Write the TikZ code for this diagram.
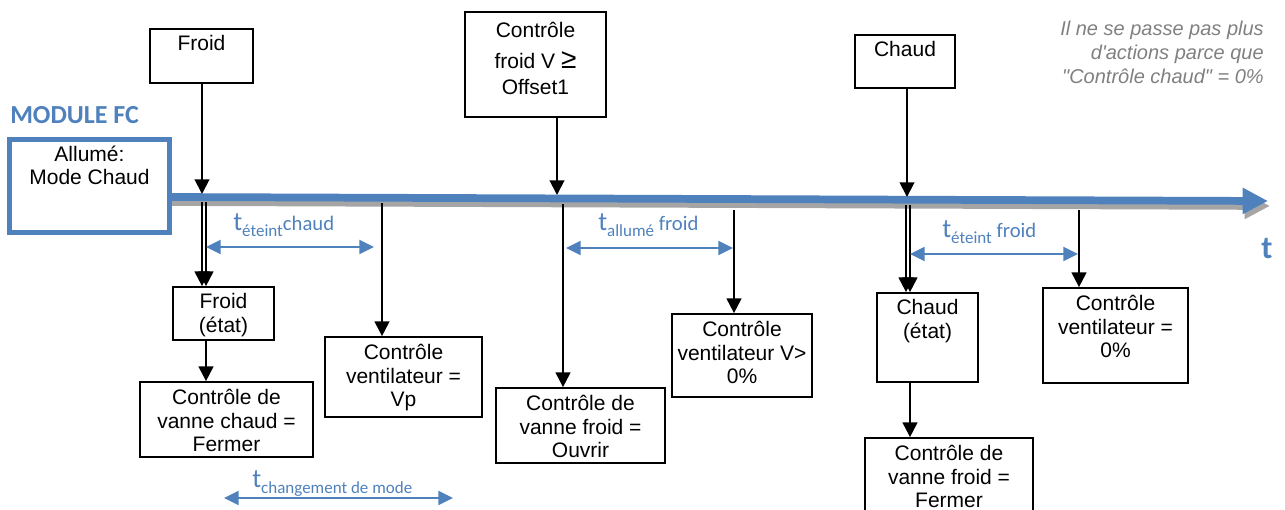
\documentclass[tikz,border=0pt]{standalone}
\usepackage{fontspec}
\setmainfont{Liberation Sans}
\newfontfamily\calibri{Carlito}
\newfontfamily\notefont{Liberation Sans}[Ligatures=TeXOff]
\usetikzlibrary{arrows.meta,fit}
\definecolor{fcblue}{RGB}{79,129,189}
\definecolor{shadowgray}{RGB}{165,165,165}
\definecolor{notegray}{RGB}{128,128,128}
% time label: big t, lowered subscript, then plain text
\newcommand\tlabel[2]{{\fontsize{20}{20}\selectfont t}\raisebox{-5pt}{\fontsize{12.75}{12.75}\selectfont #1}{\fontsize{15.5}{15.5}\selectfont #2}}
\begin{document}
\begin{tikzpicture}[x=0.75pt,y=-0.75pt,
  box/.style={draw=black, line width=1.3pt, inner sep=0pt},
  boxtext/.style={anchor=north, align=center, inner sep=0pt, font=\fontsize{15.75}{17.5}\selectfont},
  flow/.style={draw=black, line width=1.5pt, -{Triangle[length=11pt,width=11pt]}},
  span/.style={draw=fcblue, line width=1.7pt, {Triangle[length=11pt,width=10.5pt]}-{Triangle[length=11pt,width=10.5pt]}},
  spanlabel/.style={anchor=base west, inner sep=0pt, text=fcblue, font=\calibri},
  timeline/.style={draw=fcblue, line width=5.8pt, -{Triangle[length=19pt,width=18.5pt]}},
  timeshadow/.style={draw=shadowgray, line width=5.8pt, -{Triangle[length=19pt,width=18.5pt]}},
]
\useasboundingbox (0,0) rectangle (1285,510);

% time axis with its shadow
\coordinate (tlStart) at (170,197);
\coordinate (tlEnd) at (1268,201);
\draw[timeshadow] ([shift={(2,5)}]tlStart) -- ([shift={(2,5)}]tlEnd);
\draw[timeline] (tlStart) -- (tlEnd);
\node[anchor=base west, inner sep=0pt, text=fcblue, font=\calibri\bfseries\fontsize{24}{24}\selectfont] (axisT) at (1261,258) {t};

% module block
\node[anchor=base west, inner sep=0pt, text=fcblue, font=\calibri\bfseries\fontsize{19.5}{19.5}\selectfont] (modTitle) at (10,123) {MODULE FC};
\node[draw=fcblue, line width=3.8pt, inner sep=0pt, fit={(9.5,139.5) (169.5,232.5)}] (module) {};
\node[boxtext] (moduleText) at ([yshift=-6.5pt]module.north) {Allumé:\\Mode Chaud};

% event boxes above the axis
\node[box, fit={(150,29) (253,83)}] (froidTop) {};
\node[boxtext] (froidTopText) at ([yshift=-5.5pt]froidTop.north) {Froid};
\node[box, fit={(465,12) (606,117)}] (ctrlFroid) {};
\node[boxtext] (ctrlFroidText) at ([yshift=-8pt]ctrlFroid.north) {Contrôle\\[6pt]froid V {\fontsize{21}{21}\selectfont ≥}\\[2pt]Offset1};
\node[box, fit={(855,35) (955,88)}] (chaudTop) {};
\node[boxtext] (chaudTopText) at ([yshift=-5.5pt]chaudTop.north) {Chaud};

% boxes below the axis
\node[box, fit={(173,287) (274,340)}] (froidEtat) {};
\node[boxtext] (froidEtatText) at ([yshift=-5.5pt]froidEtat.north) {Froid\\(état)};
\node[box, fit={(140,382) (313,457)}] (vanneChaud) {};
\node[boxtext] (vanneChaudText) at ([yshift=-6pt]vanneChaud.north) {Contrôle de\\vanne chaud =\\Fermer};
\node[box, fit={(325,337) (482,417)}] (ventVp) {};
\node[boxtext] (ventVpText) at ([yshift=-6pt]ventVp.north) {Contrôle\\ventilateur =\\Vp};
\node[box, fit={(496,388) (665,463)}] (vanneOuvrir) {};
\node[boxtext] (vanneOuvrirText) at ([yshift=-6pt]vanneOuvrir.north) {Contrôle de\\vanne froid =\\Ouvrir};
\node[box, fit={(672,314) (812,397)}] (ventMin) {};
\node[boxtext] (ventMinText) at ([yshift=-6pt]ventMin.north) {Contrôle\\ventilateur V>\\0\%};
\node[box, fit={(877,293) (978,382)}] (chaudEtat) {};
\node[boxtext] (chaudEtatText) at ([yshift=-5.5pt]chaudEtat.north) {Chaud\\(état)};
\node[box, fit={(865,438) (1033,516)}] (vanneFermer) {};
\node[boxtext] (vanneFermerText) at ([yshift=-6pt]vanneFermer.north) {Contrôle de\\vanne froid =\\Fermer};
\node[box, fit={(1043,288) (1188,383)}] (ventZero) {};
\node[boxtext] (ventZeroText) at ([yshift=-6pt]ventZero.north) {Contrôle\\ventilateur =\\0\%};

% note, set with straight quote marks
\node[anchor=north east, align=right, inner sep=0pt, text=notegray, font=\notefont\itshape\fontsize{15}{18}\selectfont] (note) at (1264,21) {Il ne se passe pas plus\\d'actions parce que\\"Contrôle chaud" = 0\%};

% points where the connectors meet the axis
\coordinate (hitFroid) at (202,194);
\coordinate (hitCtrl) at (557,195);
\coordinate (hitChaud) at (907,197);
\coordinate (offFroidA) at (202,202);
\coordinate (offFroidB) at (206,202);
\coordinate (offVp) at (382,203);
\coordinate (offOuvrir) at (563,204);
\coordinate (offMin) at (734,210);
\coordinate (offChaudA) at (906,205);
\coordinate (offChaudB) at (910,205);
\coordinate (offZero) at (1079,210);

% events arriving on the axis
\draw[flow] (froidTop.south -| hitFroid) -- (hitFroid);
\draw[flow] (ctrlFroid.south -| hitCtrl) -- (hitCtrl);
\draw[flow] (chaudTop.south -| hitChaud) -- (hitChaud);

% actions leaving the axis
\draw[flow] (offFroidA) -- (offFroidA |- froidEtat.north);
\draw[flow] (offFroidB) -- (offFroidB |- froidEtat.north);
\draw[flow] (froidEtat.south -| offFroidB) -- (offFroidB |- vanneChaud.north);
\draw[flow] (offVp) -- (offVp |- ventVp.north);
\draw[flow] (offOuvrir) -- (offOuvrir |- vanneOuvrir.north);
\draw[flow] (offMin) -- (offMin |- ventMin.north);
\draw[flow] (offChaudA) -- (offChaudA |- chaudEtat.north);
\draw[flow] (offChaudB) -- (offChaudB |- chaudEtat.north);
\draw[flow] (chaudEtat.south -| offChaudB) -- (offChaudB |- vanneFermer.north);
\draw[flow] (offZero) -- (offZero |- ventZero.north);

% delays
\coordinate (spanA1) at (206,247);  \coordinate (spanA2) at (374,247);
\coordinate (spanB1) at (566,248);  \coordinate (spanB2) at (733,248);
\coordinate (spanC1) at (910,254);  \coordinate (spanC2) at (1078,254);
\coordinate (spanD1) at (224,498);  \coordinate (spanD2) at (453,498);
\draw[span] (spanA1) -- (spanA2);
\draw[span] (spanB1) -- (spanB2);
\draw[span] (spanC1) -- (spanC2);
\draw[span] (spanD1) -- (spanD2);
\node[spanlabel] (labA) at (233,230) {\tlabel{éteint}{chaud}};
\node[spanlabel] (labB) at (598,230) {\tlabel{allumé}{ froid}};
\node[spanlabel] (labC) at (942,237) {\tlabel{éteint}{ froid}};
\node[spanlabel] (labD) at (252,487) {\tlabel{changement de mode}{}};
\end{tikzpicture}
\end{document}
